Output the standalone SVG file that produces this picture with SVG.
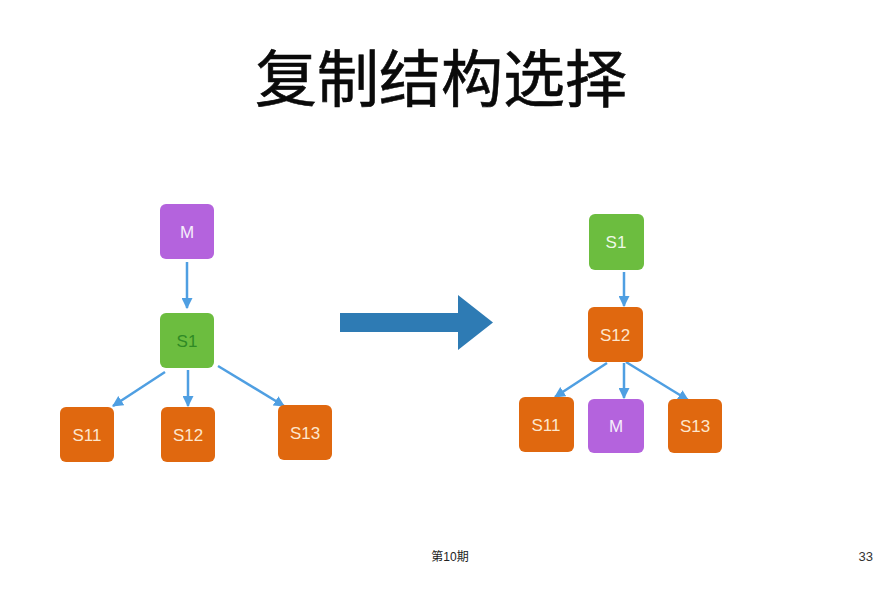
<svg xmlns="http://www.w3.org/2000/svg" width="896" height="589" viewBox="0 0 896 589">
<style>
.t{font-family:"Liberation Sans",Arial,sans-serif;font-size:17px;text-anchor:middle;dominant-baseline:central}
.p{fill:#b463dd}
.g{fill:#6cbd3f}
.o{fill:#e0680f}
.tw{fill:#f6eefb}
.to{fill:#fde6cc}
.c{stroke:#4f9fe2;stroke-width:2.5;fill:none;marker-end:url(#ah)}
</style>
<defs>
<marker id="ah" viewBox="0 0 10 10" refX="9" refY="5" markerWidth="4.4" markerHeight="4.4" orient="auto" markerUnits="strokeWidth">
<path d="M0,0 L10,5 L0,10 z" fill="#4f9fe2"/>
</marker>
</defs>
<rect width="896" height="589" fill="#ffffff"/>
<text x="441" y="102" font-family="'Noto Sans CJK SC',sans-serif" font-size="62" text-anchor="middle" fill="#0a0a0a" stroke="#0a0a0a" stroke-width="0.6">复制结构选择</text>
<g id="connectors">
<line class="c" x1="187" y1="262" x2="187" y2="308"/>
<line class="c" x1="165" y1="372" x2="113" y2="406"/>
<line class="c" x1="188" y1="370" x2="188" y2="406"/>
<line class="c" x1="218" y1="366" x2="284" y2="406"/>
<line class="c" x1="624" y1="272" x2="624" y2="306"/>
<line class="c" x1="607" y1="363" x2="555" y2="397"/>
<line class="c" x1="624" y1="363" x2="624" y2="398"/>
<line class="c" x1="626" y1="362" x2="688" y2="400"/>
</g>
<g id="bigarrow">
<path d="M340,313 L458,313 L458,295 L493,322.5 L458,350 L458,332 L340,332 z" fill="#2e7bb4"/>
</g>
<g id="L_M"><rect class="p" x="160" y="204" width="54" height="55" rx="6"/><text class="t tw" x="187" y="232">M</text></g>
<g id="L_S1"><rect class="g" x="160" y="313" width="54" height="55" rx="6"/><text class="t" fill="#2f8a25" x="187" y="341">S1</text></g>
<g id="L_S11"><rect class="o" x="60" y="407" width="54" height="55" rx="6"/><text class="t to" x="87" y="435">S11</text></g>
<g id="L_S12"><rect class="o" x="161" y="407" width="54" height="55" rx="6"/><text class="t to" x="188" y="435">S12</text></g>
<g id="L_S13"><rect class="o" x="278" y="405" width="54" height="55" rx="6"/><text class="t to" x="305" y="433">S13</text></g>
<g id="R_S1"><rect class="g" x="589" y="214" width="55" height="56" rx="6"/><text class="t" fill="#eef8e6" x="616" y="242">S1</text></g>
<g id="R_S12"><rect class="o" x="588" y="307" width="55" height="55" rx="6"/><text class="t to" x="615" y="335">S12</text></g>
<g id="R_S11"><rect class="o" x="519" y="397" width="55" height="55" rx="6"/><text class="t to" x="546" y="425">S11</text></g>
<g id="R_M"><rect class="p" x="588" y="399" width="56" height="54" rx="6"/><text class="t tw" x="616" y="426">M</text></g>
<g id="R_S13"><rect class="o" x="668" y="399" width="54" height="54" rx="6"/><text class="t to" x="695" y="426">S13</text></g>
<text x="450" y="561" font-family="'Liberation Sans','Noto Sans CJK SC',sans-serif" font-size="12" text-anchor="middle" fill="#222">第10期</text>
<text x="873" y="561" font-family="'Liberation Sans',Arial,sans-serif" font-size="13" text-anchor="end" fill="#333">33</text>
</svg>
